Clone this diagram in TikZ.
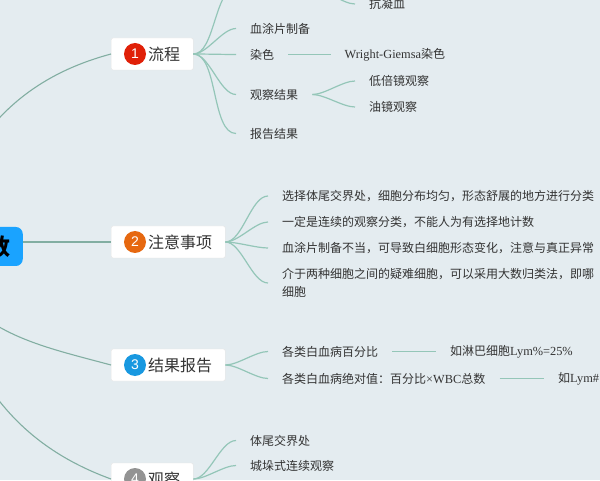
\documentclass[tikz,border=0pt]{standalone}
\usepackage{fontspec}
\setmainfont[Scale = 1.03]{Liberation Serif}
\newfontfamily\cjk{Noto Sans CJK SC}
\newfontfamily\badgefont{Liberation Sans}
\definecolor{paper}{HTML}{E4ECF0}
\definecolor{branch}{HTML}{94C6B8}
\definecolor{inktext}{HTML}{333333}
\tikzset{
	topic/.style = {draw = black!10, fill = white, rounded corners = 2pt, inner xsep = 12pt, minimum height = 32pt, font = \fontsize{16}{18}\selectfont\cjk, text = inktext},
	leaf/.style = {inner xsep = 14pt, inner ysep = 0pt, align = left, font = \fontsize{12}{18}\selectfont\cjk, text = inktext},
	badge/.style = {circle, inner sep = 0pt, minimum size = 22pt, font = \fontsize{14}{14}\selectfont\badgefont, text = white},
	twig/.style = {branch, line width = 1.2pt, out = 0, in = 180, looseness = 0.7},
	limb/.style = {branch!88!black, line width = 1.1pt},
}
\begin{document}
\begin{tikzpicture}[x = 1pt, y = 1pt]
	\useasboundingbox (0, 0) rectangle (600, 480) ;
	\clip (0, 0) rectangle (600, 480) ;
	\fill [paper] (0, 0) rectangle (600, 480) ;
	% Root
	\node [anchor = east, fill = {rgb,255:red,26;green,163;blue,255}, rounded corners = 7pt, inner xsep = 0pt, minimum height = 39pt, text width = 168pt, align = right, font = \fontsize{23}{24}\selectfont\bfseries\cjk] (root) at (23, 233.5) {数\rule{12pt}{0pt}} ;
	% Topics
	\node [topic, anchor = west] (flow) at (111, 426) {\hspace*{25pt}流程\hspace*{1pt}} ;
	\node [topic, anchor = west] (notes) at (111, 238) {\hspace*{25pt}注意事项\hspace*{1pt}} ;
	\node [topic, anchor = west] (report) at (111, 115) {\hspace*{25pt}结果报告\hspace*{1pt}} ;
	\node [topic, anchor = west] (watch) at (111, 1) {\hspace*{25pt}观察\hspace*{1pt}} ;
	\node [badge, fill = {rgb,255:red,224;green,32;blue,8}] (one) at (135, 426) {1} ;
	\node [badge, fill = {rgb,255:red,230;green,104;blue,16}] (two) at (135, 238) {2} ;
	\node [badge, fill = {rgb,255:red,24;green,152;blue,224}] (three) at (135, 115) {3} ;
	\node [badge, fill = gray!85] (four) at (135, 1) {4} ;
	\draw [limb] (root.north) to [out = 72, in = 195] (flow.west) ;
	\draw [limb] (root.east |- notes.west) -- (notes.west) ;
	\draw [limb] (root.south) to [out = -60, in = 165] (report.west) ;
	\draw [limb] (root.south) to [out = -76, in = 160] (watch.west) ;
	% Flow branch
	\coordinate (hidden) at (236, 492) ;
	\coordinate (hiddenup) at (312, 492) ;
	\coordinate (hiddentip) at (355, 476) ;
	\node [leaf, anchor = west] (smear) at (236, 451.5) {血涂片制备} ;
	\node [leaf, anchor = west] (stain) at (236, 425.5) {染色} ;
	\node [leaf, anchor = west] (look) at (236, 385.5) {观察结果} ;
	\node [leaf, anchor = west] (tell) at (236, 346.5) {报告结果} ;
	\node [leaf, anchor = west] (giemsa) at (330.5, 425.5) {\rmfamily Wright-Giemsa\cjk 染色} ;
	\node [leaf, anchor = west] (low) at (355, 399) {低倍镜观察} ;
	\node [leaf, anchor = west] (oil) at (355, 373) {油镜观察} ;
	\node [leaf, anchor = west] (clot) at (355, 476) {抗凝血} ;
	\foreach \n in {smear, stain, look, tell}{
		\draw [twig] (flow.east) to (\n.west) ;
	}
	\draw [twig] (flow.east) to (hidden) ;
	\draw [twig] (hiddenup) to (hiddentip) ;
	\draw [twig] (stain.east) -- (giemsa.west) ;
	\draw [twig] (look.east) to (low.west) ;
	\draw [twig] (look.east) to (oil.west) ;
	% Notes branch
	\node [leaf, anchor = west] (pick) at (268, 284) {选择体尾交界处，细胞分布均匀，形态舒展的地方进行分类} ;
	\node [leaf, anchor = west] (keep) at (268, 258) {一定是连续的观察分类，不能人为有选择地计数} ;
	\node [leaf, anchor = west] (smearbad) at (268, 232) {血涂片制备不当，可导致白细胞形态变化，注意与真正异常} ;
	\node [leaf, anchor = west] (hard) at (268, 197) {介于两种细胞之间的疑难细胞，可以采用大数归类法，即哪\\细胞} ;
	\foreach \n in {pick, keep, smearbad, hard}{
		\draw [twig] (notes.east) to (\n.west) ;
	}
	% Report branch
	\node [leaf, anchor = west] (percent) at (268, 128.5) {各类白血病百分比} ;
	\node [leaf, anchor = west] (absolute) at (268, 101.5) {各类白血病绝对值：百分比{\rmfamily ×WBC}总数} ;
	\node [leaf, anchor = west] (lymp) at (436, 128.5) {如淋巴细胞{\rmfamily Lym\%=25\%}} ;
	\node [leaf, anchor = west] (lyma) at (544, 101.5) {如{\rmfamily Lym\#}} ;
	\draw [twig] (report.east) to (percent.west) ;
	\draw [twig] (report.east) to (absolute.west) ;
	\draw [twig] (percent.east) -- (lymp.west) ;
	\draw [twig] (absolute.east) -- (lyma.west) ;
	% Watch branch
	\node [leaf, anchor = west] (tail) at (236, 39.5) {体尾交界处} ;
	\node [leaf, anchor = west] (wall) at (236, 14.5) {城垛式连续观察} ;
	\draw [twig] (watch.east) to (tail.west) ;
	\draw [twig] (watch.east) to (wall.west) ;
\end{tikzpicture}
\end{document}
